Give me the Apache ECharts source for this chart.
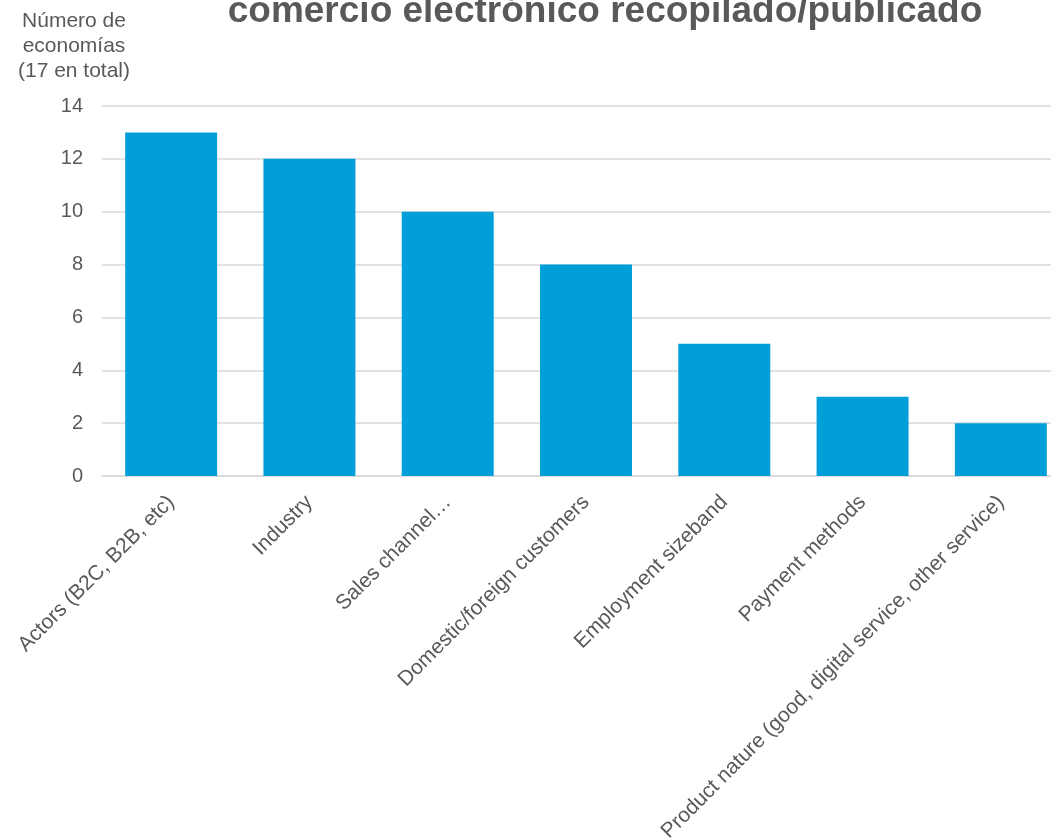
<!DOCTYPE html>
<html><head><meta charset="utf-8">
<script src="https://cdn.jsdelivr.net/npm/echarts@6/dist/echarts.min.js"></script>
<style>html,body{margin:0;padding:0;background:#fff}#c{width:1051px;height:839px}</style>
</head><body><div id="c"></div>
<script>
const titleText = 'comercio electrónico recopilado/publicado';
const yAxisName = 'Número de\neconomías\n(17 en total)';
const categories = ['Actors (B2C, B2B, etc)', 'Industry', 'Sales channel…', 'Domestic/foreign customers', 'Employment sizeband', 'Payment methods', 'Product nature (good, digital service, other service)'];
const values = [13, 12, 10, 8, 5, 3, 2];
const yTicks = [0, 2, 4, 6, 8, 10, 12, 14];

const chart = echarts.init(document.getElementById('c'), null, {renderer: 'canvas'});
const FONT = '"Liberation Sans", Arial, sans-serif';
chart.setOption({
  animation: false,
  textStyle: {fontFamily: FONT},
  title: {
    text: titleText, left: 600, top: -12, textAlign: 'center',
    textStyle: {fontFamily: FONT, fontSize: 37, fontWeight: 'bold', color: '#595959'}
  },
  grid: {left: 102, right: -19, top: 106, bottom: 363, containLabel: false, outerBoundsMode: 'none'},
  xAxis: {
    type: 'category', data: categories,
    axisLine: {show: true, lineStyle: {color: '#d9d9d9', width: 1.5}},
    axisTick: {show: false},
    axisLabel: {rotate: 45, interval: 0, margin: 23, fontSize: 21, color: '#595959', fontFamily: FONT}
  },
  yAxis: {
    type: 'value', min: yTicks[0], max: yTicks[yTicks.length - 1], interval: 2,
    name: yAxisName, nameLocation: 'end', nameGap: 22,
    nameTextStyle: {fontSize: 21, color: '#595959', align: 'center', lineHeight: 25, padding: [0, 56, 0, 0], fontFamily: FONT},
    axisLine: {show: false}, axisTick: {show: false},
    axisLabel: {fontSize: 20, color: '#595959', margin: 19, fontFamily: FONT},
    splitLine: {lineStyle: {color: '#d9d9d9', width: 1.5}}
  },
  series: [{
    type: 'bar', data: values, barWidth: '66.5%',
    itemStyle: {color: '#009FDA'}
  }]
});
</script></body></html>
